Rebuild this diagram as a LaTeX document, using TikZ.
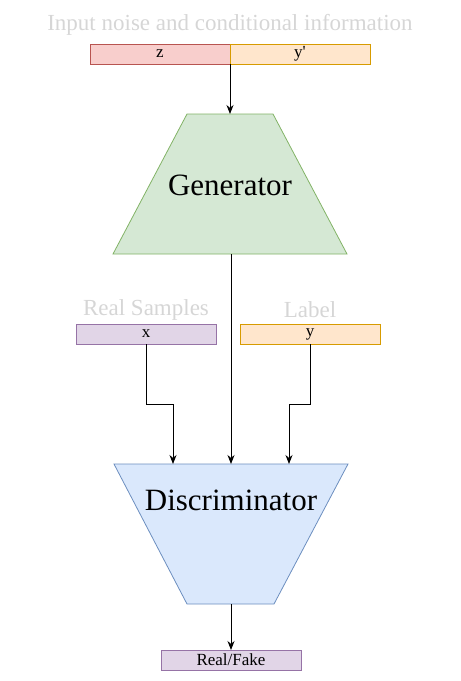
\documentclass[tikz,border=0pt]{standalone}
\usepackage{fontspec}
\setmainfont{Liberation Serif}
\usetikzlibrary{arrows.meta}

\definecolor{redfill}{HTML}{F8CECC}
\definecolor{redline}{HTML}{B85450}
\definecolor{orangefill}{HTML}{FFE6CC}
\definecolor{orangeline}{HTML}{D79B00}
\definecolor{purplefill}{HTML}{E1D5E7}
\definecolor{purpleline}{HTML}{9673A6}
\definecolor{greenfill}{HTML}{D5E8D4}
\definecolor{greenline}{HTML}{82B366}
\definecolor{bluefill}{HTML}{DAE8FC}
\definecolor{blueline}{HTML}{6C8EBF}
\definecolor{titlegrey}{HTML}{D6D6D6}

\tikzset{
  databox/.style={draw, line width=0.8pt, minimum width=140pt, minimum height=20pt,
    inner sep=0pt, outer sep=0pt, font=\fontsize{17}{18}\selectfont},
  caption/.style={text=titlegrey, font=\fontsize{23}{26}\selectfont},
  block/.style={line width=0.8pt},
  blocktext/.style={font=\fontsize{31}{34}\selectfont},
  flow/.style={-{Stealth[length=9pt,width=7pt]}, line width=0.9pt}
}

\begin{document}
\begin{tikzpicture}[x=1pt, y=-1pt]
  \useasboundingbox (0,0) rectangle (461,681);

  % generator input
  \node[caption] (inputtitle) at (230,25) {Input noise and conditional information};
  \node[databox, fill=redfill, draw=redline] (z) at (160,54) {z};
  \node[databox, fill=orangefill, draw=orangeline] (yprime) at (300,54) {y\textquotesingle};

  % generator
  \draw[block, fill=greenfill, draw=greenline] (187,114) -- (273,114) -- (347,254) -- (113,254) -- cycle;
  \node[blocktext] (gen) at (230,185) {Generator};
  \coordinate (gentop) at (230,114);
  \coordinate (genbottom) at (231,254);

  % discriminator inputs
  \node[caption] (realtitle) at (146,310) {Real Samples};
  \node[databox, fill=purplefill, draw=purpleline] (x) at (146,334) {x};
  \node[caption] (labeltitle) at (310,310) {Label};
  \node[databox, fill=orangefill, draw=orangeline] (y) at (310,334) {y};

  % discriminator
  \draw[block, fill=bluefill, draw=blueline] (114,464) -- (348,464) -- (274,604) -- (187,604) -- cycle;
  \node[blocktext] (disc) at (231,500) {Discriminator};
  \coordinate (disctop) at (231,464);
  \coordinate (discbottom) at (231,604);

  % output
  \node[databox, fill=purplefill, draw=purpleline] (out) at (231,660) {Real/Fake};

  % connectors
  \coordinate (xin) at (173,464);
  \coordinate (yin) at (289,464);
  \draw[flow] (z.south east) -- (gentop);
  \draw[flow] (genbottom) -- (disctop);
  \draw[flow] (x.south) -- ++(0,60) -| (xin);
  \draw[flow] (y.south) -- ++(0,60) -| (yin);
  \draw[flow] (discbottom) -- (out.north);
\end{tikzpicture}
\end{document}
